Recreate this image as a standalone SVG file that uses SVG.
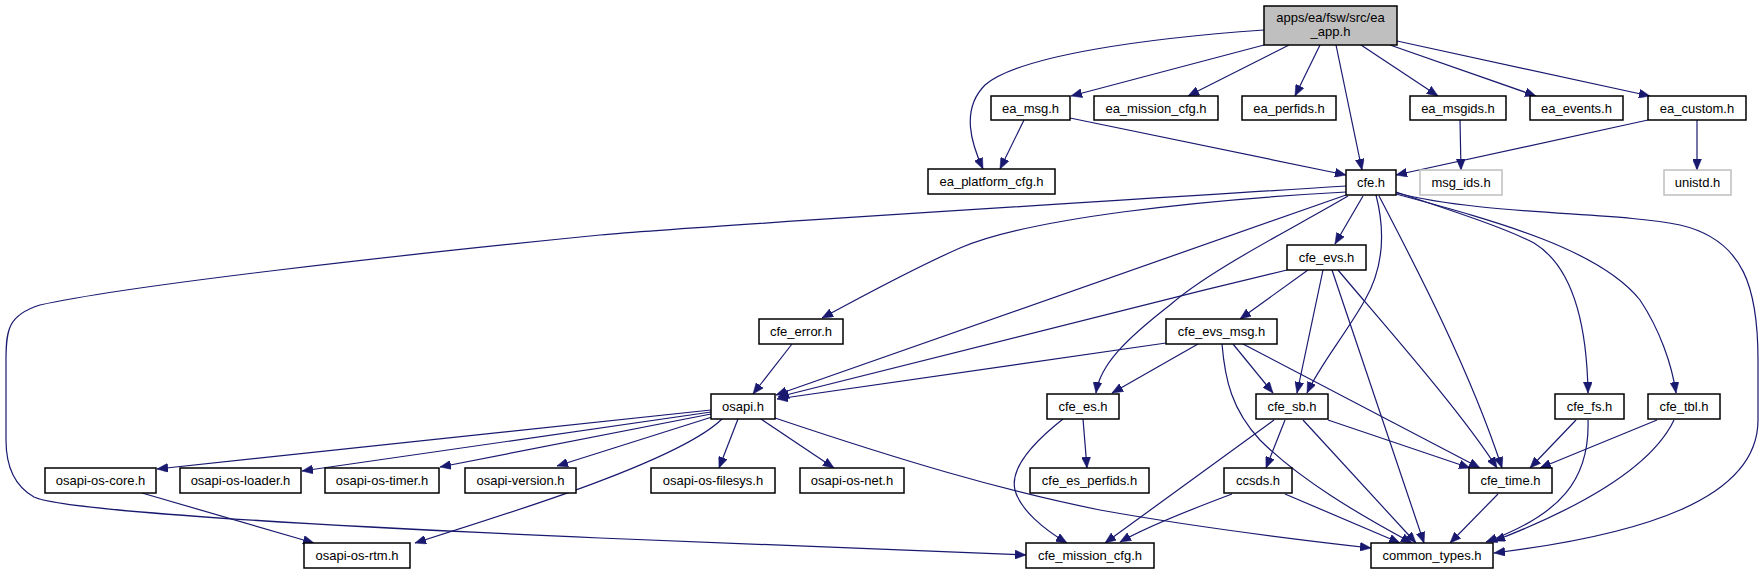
<svg xmlns="http://www.w3.org/2000/svg" width="1763" height="575" viewBox="0 0 1763 575">
<style>
.n rect{fill:#fff;stroke:#000;stroke-width:1.5}
.n.g rect{stroke:#bfbfbf}
.n.m rect{fill:#bfbfbf}
.n text{font-family:"Liberation Sans",Arial,Helvetica,sans-serif;font-size:13px;fill:#000;text-anchor:middle}
.e path{fill:none;stroke:#191970;stroke-width:1.2;marker-end:url(#ah)}
</style>
<defs>
<marker id="ah" markerUnits="userSpaceOnUse" viewBox="0 0 11 9" markerWidth="11" markerHeight="9" refX="11" refY="4.5" orient="auto">
<path d="M0,0 L11,4.5 L0,9 z" fill="#191970" stroke="#191970" stroke-width="0.5"/>
</marker>
</defs>
<rect width="1763" height="575" fill="#fff"/>
<g id="edges" class="e">
<path d="M1264,30 C1150,38 1020,55 985,85 C960,110 972,145 983,169"/>
<path d="M1264,45 L1071,96"/>
<path d="M1289,45 L1188,96"/>
<path d="M1320,45 L1295,96"/>
<path d="M1336,45 L1362,170"/>
<path d="M1361,45 L1438,96"/>
<path d="M1390,45 L1536,96"/>
<path d="M1397,41 L1650,96"/>
<path d="M1024,120 L1000,169"/>
<path d="M1070,118 L1346,175"/>
<path d="M1648,120 L1396,175"/>
<path d="M1460,120 L1461,170"/>
<path d="M1697,120 L1697,170"/>
<path d="M1346,186 C1000,208 700,226 600,235 C400,255 130,285 40,305 C8,315 6,330 6,360 L6,440 C6,470 18,488 34,497 C60,510 300,525 600,538 L1026,555"/>
<path d="M1346,192 C1200,200 1030,218 960,248 C910,270 865,295 822,318"/>
<path d="M1346,195 L776,395"/>
<path d="M1363,196 L1335,244"/>
<path d="M1348,196 C1290,230 1210,270 1170,305 C1125,340 1100,365 1096,393"/>
<path d="M1376,195 C1385,230 1385,265 1365,300 C1345,335 1320,365 1307,393"/>
<path d="M1379,196 C1415,265 1470,370 1502,468"/>
<path d="M1396,192 C1450,210 1505,228 1534,243 C1575,268 1587,330 1588,393"/>
<path d="M1396,194 C1500,222 1600,250 1640,300 C1660,330 1672,365 1676,393"/>
<path d="M1397,193 C1480,215 1620,212 1680,225 C1745,240 1758,290 1758,360 L1758,420 C1758,500 1640,535 1494,553"/>
<path d="M1287,270 C1100,315 900,365 778,397"/>
<path d="M1308,270 L1240,319"/>
<path d="M1323,270 L1297,393"/>
<path d="M1332,270 L1424,543"/>
<path d="M1338,270 C1380,320 1460,410 1497,468"/>
<path d="M1166,343 L777,399"/>
<path d="M1198,344 L1112,393"/>
<path d="M1233,344 L1273,393"/>
<path d="M1222,344 C1225,380 1232,410 1260,440 C1300,480 1360,515 1412,543"/>
<path d="M1243,344 L1480,468"/>
<path d="M1328,420 L1470,468"/>
<path d="M1285,420 L1266,468"/>
<path d="M1303,420 L1416,543"/>
<path d="M1274,420 L1105,543"/>
<path d="M1232,494 C1200,506 1150,525 1120,542"/>
<path d="M1285,494 L1400,543"/>
<path d="M1498,494 L1450,543"/>
<path d="M1576,420 L1530,468"/>
<path d="M1588,420 C1590,480 1560,515 1486,542"/>
<path d="M1657,420 L1540,468"/>
<path d="M1674,420 C1655,460 1600,500 1494,541"/>
<path d="M711,410 L157,469"/>
<path d="M711,412 L302,471"/>
<path d="M711,414 L440,467"/>
<path d="M712,417 L557,466"/>
<path d="M722,419 C680,460 520,510 415,543"/>
<path d="M738,419 L719,468"/>
<path d="M761,419 L834,468"/>
<path d="M775,418 C900,460 1000,490 1100,510 C1200,528 1300,540 1371,548"/>
<path d="M142,493 L314,543"/>
<path d="M792,344 L753,394"/>
<path d="M1063,419 C1030,445 1010,470 1015,490 C1020,510 1045,530 1067,543"/>
<path d="M1083,419 L1087,468"/>
</g>
<g id="ea_app" class="n m"><rect x="1264" y="6" width="133" height="39"/><text x="1330.5" y="21.5">apps/ea/fsw/src/ea</text><text x="1330.5" y="36">_app.h</text></g>
<g id="ea_msg" class="n"><rect x="991" y="96" width="79" height="24"/><text x="1030.5" y="113">ea_msg.h</text></g>
<g id="ea_mission_cfg" class="n"><rect x="1094" y="96" width="124" height="24"/><text x="1156" y="113">ea_mission_cfg.h</text></g>
<g id="ea_perfids" class="n"><rect x="1242" y="96" width="94" height="24"/><text x="1289" y="113">ea_perfids.h</text></g>
<g id="ea_msgids" class="n"><rect x="1410" y="96" width="96" height="24"/><text x="1458" y="113">ea_msgids.h</text></g>
<g id="ea_events" class="n"><rect x="1530" y="96" width="93" height="24"/><text x="1576.5" y="113">ea_events.h</text></g>
<g id="ea_custom" class="n"><rect x="1648" y="96" width="98" height="24"/><text x="1697" y="113">ea_custom.h</text></g>
<g id="ea_platform_cfg" class="n"><rect x="928" y="169" width="127" height="25"/><text x="991.5" y="186">ea_platform_cfg.h</text></g>
<g id="cfe" class="n"><rect x="1346" y="170" width="50" height="25"/><text x="1371" y="187">cfe.h</text></g>
<g id="msg_ids" class="n g"><rect x="1420" y="170" width="82" height="25"/><text x="1461" y="187">msg_ids.h</text></g>
<g id="unistd" class="n g"><rect x="1664" y="170" width="67" height="25"/><text x="1697.5" y="187">unistd.h</text></g>
<g id="cfe_evs" class="n"><rect x="1287" y="245" width="79" height="25"/><text x="1326.5" y="262">cfe_evs.h</text></g>
<g id="cfe_error" class="n"><rect x="759" y="319" width="84" height="25"/><text x="801" y="336">cfe_error.h</text></g>
<g id="cfe_evs_msg" class="n"><rect x="1166" y="319" width="111" height="25"/><text x="1221.5" y="336">cfe_evs_msg.h</text></g>
<g id="osapi" class="n"><rect x="711" y="394" width="64" height="25"/><text x="743" y="411">osapi.h</text></g>
<g id="cfe_es" class="n"><rect x="1047" y="394" width="72" height="25"/><text x="1083" y="411">cfe_es.h</text></g>
<g id="cfe_sb" class="n"><rect x="1256" y="394" width="72" height="25"/><text x="1292" y="411">cfe_sb.h</text></g>
<g id="cfe_fs" class="n"><rect x="1555" y="394" width="69" height="25"/><text x="1589.5" y="411">cfe_fs.h</text></g>
<g id="cfe_tbl" class="n"><rect x="1648" y="394" width="72" height="25"/><text x="1684" y="411">cfe_tbl.h</text></g>
<g id="osapi_os_core" class="n"><rect x="45" y="468" width="111" height="25"/><text x="100.5" y="485">osapi-os-core.h</text></g>
<g id="osapi_os_loader" class="n"><rect x="180" y="468" width="121" height="25"/><text x="240.5" y="485">osapi-os-loader.h</text></g>
<g id="osapi_os_timer" class="n"><rect x="325" y="468" width="114" height="25"/><text x="382" y="485">osapi-os-timer.h</text></g>
<g id="osapi_version" class="n"><rect x="465" y="468" width="111" height="25"/><text x="520.5" y="485">osapi-version.h</text></g>
<g id="osapi_os_filesys" class="n"><rect x="651" y="468" width="124" height="25"/><text x="713" y="485">osapi-os-filesys.h</text></g>
<g id="osapi_os_net" class="n"><rect x="800" y="468" width="104" height="25"/><text x="852" y="485">osapi-os-net.h</text></g>
<g id="cfe_es_perfids" class="n"><rect x="1030" y="468" width="119" height="25"/><text x="1089.5" y="485">cfe_es_perfids.h</text></g>
<g id="ccsds" class="n"><rect x="1224" y="468" width="68" height="25"/><text x="1258" y="485">ccsds.h</text></g>
<g id="cfe_time" class="n"><rect x="1469" y="468" width="83" height="25"/><text x="1510.5" y="485">cfe_time.h</text></g>
<g id="osapi_os_rtm" class="n"><rect x="304" y="543" width="106" height="25"/><text x="357" y="560">osapi-os-rtm.h</text></g>
<g id="cfe_mission_cfg" class="n"><rect x="1026" y="543" width="128" height="25"/><text x="1090" y="560">cfe_mission_cfg.h</text></g>
<g id="common_types" class="n"><rect x="1371" y="543" width="122" height="25"/><text x="1432" y="560">common_types.h</text></g>
</svg>
